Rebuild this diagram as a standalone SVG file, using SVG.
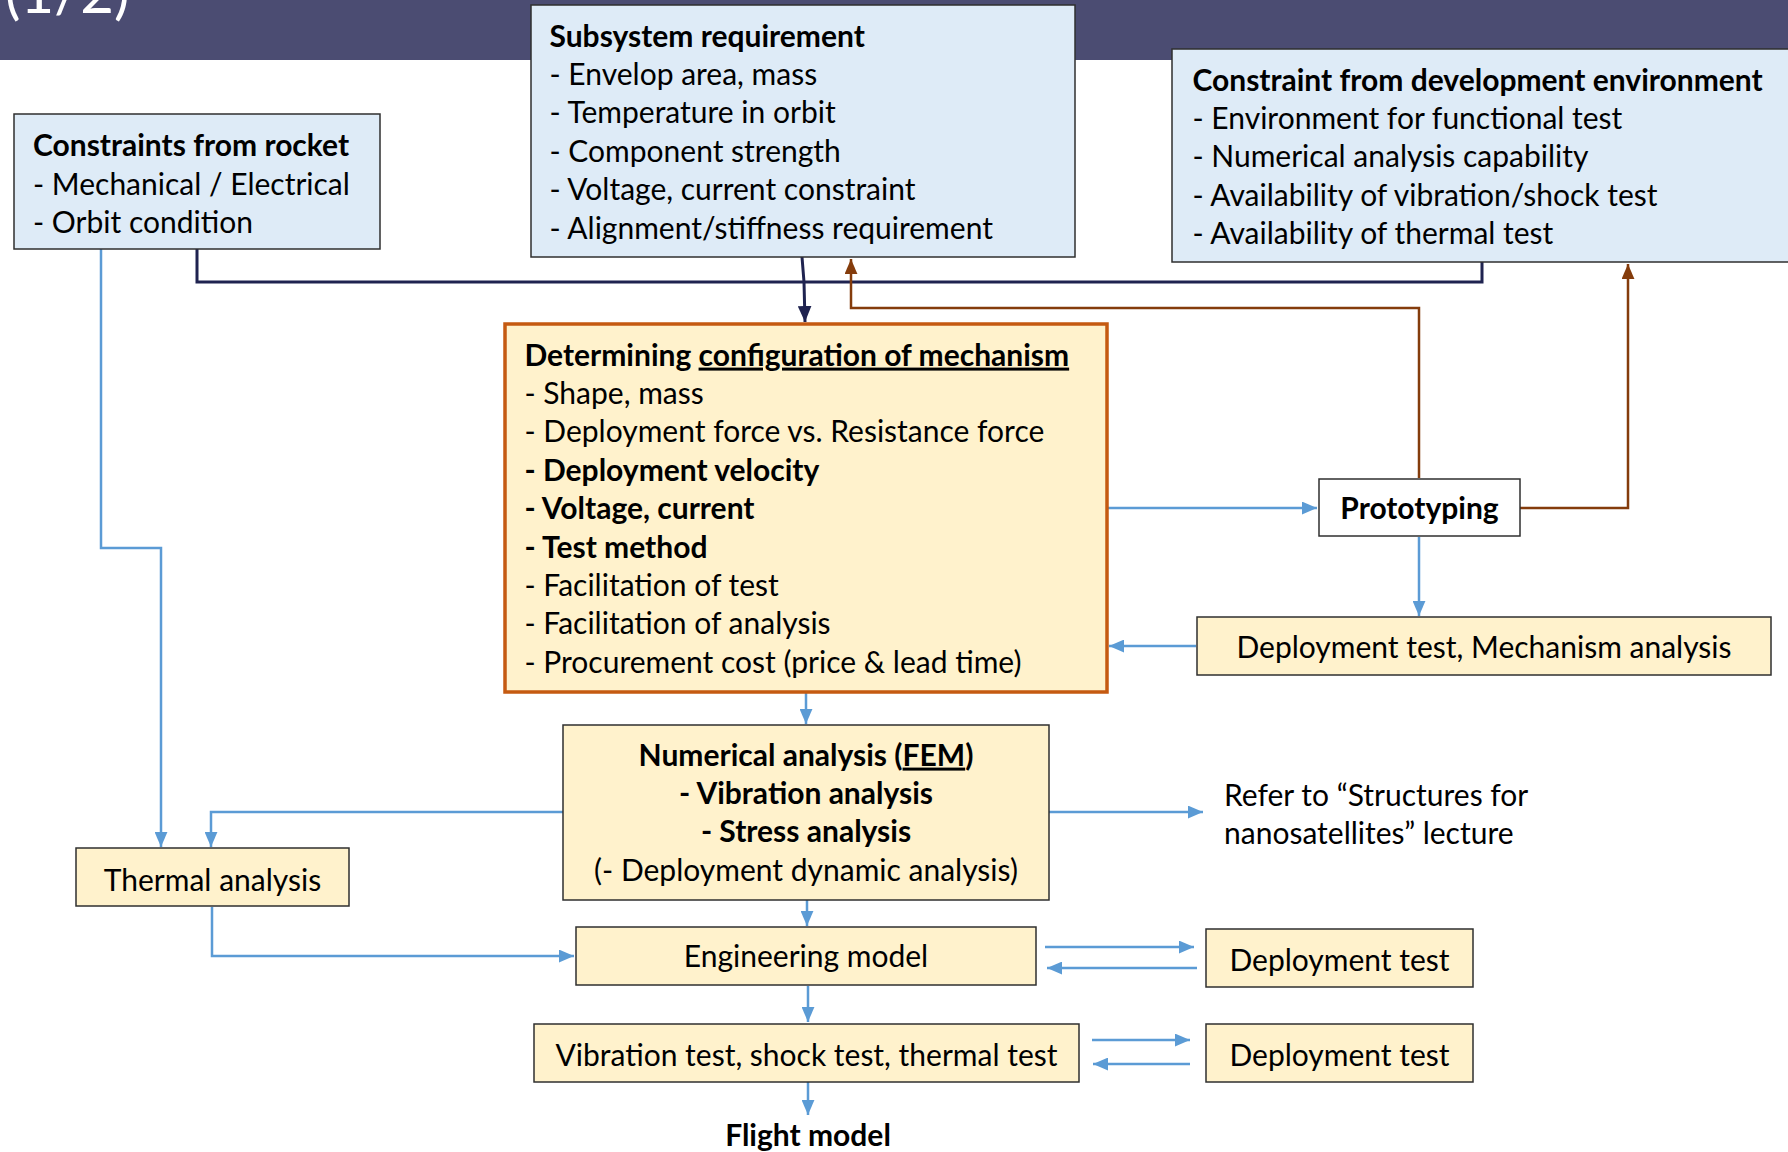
<svg xmlns="http://www.w3.org/2000/svg" width="1788" height="1152" viewBox="0 0 1788 1152">
<style>
text{font-family:Lato,"Liberation Sans",sans-serif;font-size:30px;fill:#000}
.b{font-weight:bold}
.c{text-anchor:middle}
.blue{fill:#DEEBF7;stroke:#2F2F2F;stroke-width:1.5}
.yel{fill:#FFF2CC;stroke:#2F2F2F;stroke-width:1.5}
.cb{fill:none;stroke:#5B9BD5;stroke-width:2.5}
.cn{fill:none;stroke:#1F2350;stroke-width:3}
.cr{fill:none;stroke:#843C0C;stroke-width:2.5}
</style>
<defs>
<marker id="ab" viewBox="0 0 14 12" refX="14" refY="6" markerWidth="15" markerHeight="13" markerUnits="userSpaceOnUse" orient="auto"><path d="M0,0 L14,6 L0,12 z" fill="#5B9BD5"/></marker>
<marker id="an" viewBox="0 0 14 12" refX="14" refY="6" markerWidth="16" markerHeight="14" markerUnits="userSpaceOnUse" orient="auto"><path d="M0,0 L14,6 L0,12 z" fill="#1F2350"/></marker>
<marker id="ar" viewBox="0 0 14 12" refX="14" refY="6" markerWidth="15" markerHeight="13" markerUnits="userSpaceOnUse" orient="auto"><path d="M0,0 L14,6 L0,12 z" fill="#843C0C"/></marker>
</defs>
<rect x="0" y="0" width="1788" height="60" fill="#4B4C72"/>
<text x="5" y="13" style="font-size:58px;fill:#fff">(1/2)</text>

<g id="connectors">
<path class="cn" d="M197,249 V282 H1482 V262"/>
<path class="cn" d="M802,257 L804,282 L805,322" marker-end="url(#an)"/>
<path class="cr" d="M1419,478 V308 H851 V259" marker-end="url(#ar)"/>
<path class="cr" d="M1520,508 H1628 V264" marker-end="url(#ar)"/>
<path class="cb" d="M101,249 V548 H161 V847" marker-end="url(#ab)"/>
<path class="cb" d="M563,812 H211 V847" marker-end="url(#ab)"/>
<path class="cb" d="M212,907 V956 H574" marker-end="url(#ab)"/>
<path class="cb" d="M806,693 V724" marker-end="url(#ab)"/>
<path class="cb" d="M1049,812 H1203" marker-end="url(#ab)"/>
<path class="cb" d="M1107,508 H1317" marker-end="url(#ab)"/>
<path class="cb" d="M1419,537 V616" marker-end="url(#ab)"/>
<path class="cb" d="M1196,646 H1109" marker-end="url(#ab)"/>
<path class="cb" d="M807,900 V926" marker-end="url(#ab)"/>
<path class="cb" d="M1045,947 H1194" marker-end="url(#ab)"/>
<path class="cb" d="M1197,968 H1047" marker-end="url(#ab)"/>
<path class="cb" d="M808,986 V1022" marker-end="url(#ab)"/>
<path class="cb" d="M1092,1040 H1190" marker-end="url(#ab)"/>
<path class="cb" d="M1190,1064 H1093" marker-end="url(#ab)"/>
<path class="cb" d="M808,1082 V1115" marker-end="url(#ab)"/>
</g>

<g id="rocket">
<rect class="blue" x="14" y="114" width="366" height="135"/>
<text class="b" x="33" y="156">Constraints from rocket</text>
<text x="33" y="194.5">- Mechanical / Electrical</text>
<text x="33" y="233">- Orbit condition</text>
</g>

<g id="subsystem">
<rect class="blue" x="531" y="5" width="544" height="252"/>
<text class="b" x="549.5" y="46.5">Subsystem requirement</text>
<text x="549.5" y="85">- Envelop area, mass</text>
<text x="549.5" y="123.3">- Temperature in orbit</text>
<text x="549.5" y="161.7">- Component strength</text>
<text x="549.5" y="200">- Voltage, current constraint</text>
<text x="549.5" y="238.5">- Alignment/stiffness requirement</text>
</g>

<g id="devenv">
<rect class="blue" x="1172" y="49" width="620" height="213"/>
<text class="b" x="1192.5" y="90.5">Constraint from development environment</text>
<text x="1192.5" y="129">- Environment for functional test</text>
<text x="1192.5" y="167.3">- Numerical analysis capability</text>
<text x="1192.5" y="205.6">- Availability of vibration/shock test</text>
<text x="1192.5" y="244">- Availability of thermal test</text>
</g>

<g id="determining">
<rect x="505" y="324" width="602" height="368" fill="#FFF2CC" stroke="#C55A11" stroke-width="3.5"/>
<text class="b" x="524.5" y="365.6">Determining <tspan text-decoration="underline">configuration of mechanism</tspan></text>
<text x="524.5" y="404">- Shape, mass</text>
<text x="524.5" y="442.3">- Deployment force vs. Resistance force</text>
<text class="b" x="524.5" y="480.7">- Deployment velocity</text>
<text class="b" x="524.5" y="519.1">- Voltage, current</text>
<text class="b" x="524.5" y="557.5">- Test method</text>
<text x="524.5" y="595.9">- Facilitation of test</text>
<text x="524.5" y="634.3">- Facilitation of analysis</text>
<text x="524.5" y="672.7">- Procurement cost (price &amp; lead time)</text>
</g>

<g id="prototyping">
<rect x="1319" y="479" width="201" height="57" fill="#fff" stroke="#2F2F2F" stroke-width="1.5"/>
<text class="b c" x="1419.5" y="519">Prototyping</text>
</g>

<g id="dtma">
<rect class="yel" x="1197" y="617" width="574" height="58"/>
<text class="c" x="1484" y="657.5">Deployment test, Mechanism analysis</text>
</g>

<g id="numerical">
<rect class="yel" x="563" y="725" width="486" height="175"/>
<text class="b c" x="806" y="765.6">Numerical analysis (<tspan text-decoration="underline">FEM</tspan>)</text>
<text class="b c" x="806" y="804">- Vibration analysis</text>
<text class="b c" x="806" y="842.3">- Stress analysis</text>
<text class="c" x="806" y="880.6">(- Deployment dynamic analysis)</text>
</g>

<g id="refer">
<text x="1224" y="805.6">Refer to “Structures for</text>
<text x="1224" y="844">nanosatellites” lecture</text>
</g>

<g id="thermal">
<rect class="yel" x="76" y="848" width="273" height="58"/>
<text class="c" x="212.5" y="890.6">Thermal analysis</text>
</g>

<g id="engineering">
<rect class="yel" x="576" y="927" width="460" height="58"/>
<text class="c" x="806" y="967.3">Engineering model</text>
</g>

<g id="deploy1">
<rect class="yel" x="1206" y="929" width="267" height="58"/>
<text class="c" x="1339.5" y="970.6">Deployment test</text>
</g>

<g id="vibration">
<rect class="yel" x="534" y="1024" width="545" height="58"/>
<text class="c" x="806.5" y="1065.6">Vibration test, shock test, thermal test</text>
</g>

<g id="deploy2">
<rect class="yel" x="1206" y="1024" width="267" height="58"/>
<text class="c" x="1339.5" y="1065.6">Deployment test</text>
</g>

<g id="flight">
<text class="b c" x="808" y="1146">Flight model</text>
</g>
</svg>
